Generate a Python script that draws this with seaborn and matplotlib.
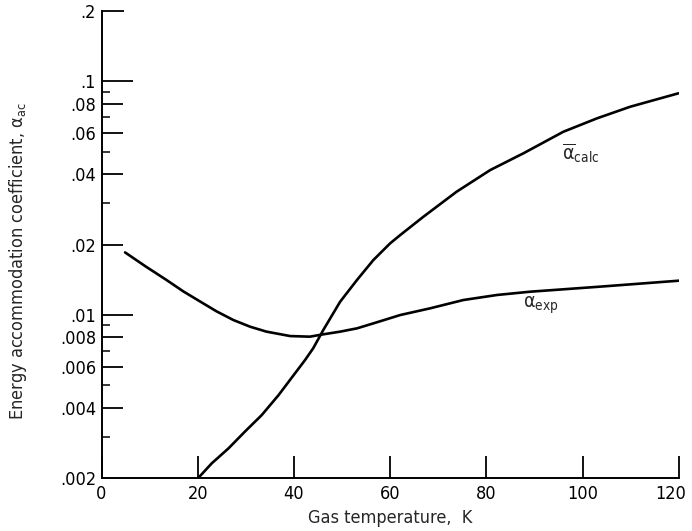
import pandas as pd
import seaborn as sns
import matplotlib.pyplot as plt
import matplotlib.transforms as mtransforms
from matplotlib.ticker import FixedLocator, NullFormatter

sns.set_style('ticks')
plt.rcParams['font.family'] = ['DejaVu Sans']
plt.rcParams['font.stretch'] = 'condensed'
plt.rcParams['mathtext.fontset'] = 'custom'
plt.rcParams['mathtext.rm'] = 'DejaVu Sans:stretch=condensed'
plt.rcParams['mathtext.it'] = 'DejaVu Sans:stretch=condensed'

# values
temp_exp = [4.9, 9.2, 13.5, 17.0, 20.5, 23.9, 27.4, 30.9, 34.3, 39.2,
            43.3, 46.1, 49.6, 53.1, 56.5, 62.1, 68.3, 75.2, 82.2, 89.1,
            103.6, 120.0]
alpha_exp = [0.0185, 0.0161, 0.0141, 0.0126, 0.0114, 0.01035, 0.0095,
             0.00889, 0.00847, 0.00811, 0.00806, 0.00825, 0.00847, 0.00875,
             0.00919, 0.00998, 0.01066, 0.01157, 0.01216, 0.01256, 0.0132,
             0.0140]

temp_calc = [20.1, 22.9, 26.4, 29.8, 33.3, 36.8, 40.2, 42.3, 44.0, 46.1,
             49.6, 53.1, 56.5, 60.0, 62.1, 66.9, 73.8, 80.8, 87.7, 96.0,
             103.0, 109.9, 119.9]
alpha_calc = [0.0020, 0.00231, 0.00268, 0.00316, 0.00372, 0.00453, 0.00561,
              0.0064, 0.00719, 0.00861, 0.01138, 0.0141, 0.01716, 0.02024,
              0.02197, 0.0263, 0.03366, 0.04169, 0.04918, 0.06083, 0.06943,
              0.07785, 0.08884]

x_ticks = [0, 20, 40, 60, 80, 100, 120]
y_major = [0.002, 0.004, 0.006, 0.008, 0.01, 0.02, 0.04, 0.06, 0.08, 0.1, 0.2]
y_labels = ['.002', '.004', '.006', '.008', '.01', '.02', '.04', '.06',
            '.08', '.1', '.2']
y_minor = [0.003, 0.005, 0.007, 0.009, 0.03, 0.05, 0.07, 0.09]

df = pd.concat([
    pd.DataFrame({'T': temp_exp, 'alpha': alpha_exp, 'curve': 'exp'}),
    pd.DataFrame({'T': temp_calc, 'alpha': alpha_calc, 'curve': 'calc'}),
])

fig = plt.figure(figsize=(6.92, 5.31), dpi=100)
ax = fig.add_axes([0.1467, 0.0998, 0.8343, 0.8794])

sns.lineplot(data=df, x='T', y='alpha', units='curve', estimator=None,
             color='black', linewidth=1.9, sort=False, ax=ax, legend=False)

ax.set_yscale('log')
ax.set_xlim(0, 120)
ax.set_ylim(0.002, 0.2)

for s in ['top', 'right']:
    ax.spines[s].set_visible(False)
for s in ['left', 'bottom']:
    ax.spines[s].set_linewidth(1.4)
    ax.spines[s].set_color('black')

ax.set_xticks(x_ticks)
ax.set_xticklabels([str(v) for v in x_ticks])
ax.yaxis.set_major_locator(FixedLocator(y_major))
ax.set_yticklabels(y_labels)
ax.yaxis.set_minor_locator(FixedLocator(y_minor))
ax.yaxis.set_minor_formatter(NullFormatter())
ax.xaxis.set_minor_locator(FixedLocator([]))

ax.tick_params(axis='x', direction='in', length=16, width=1.3,
               labelsize=13, pad=5, colors='black')
ax.tick_params(axis='y', which='major', direction='in', length=15, width=1.3,
               labelsize=13, pad=4, colors='black')
ax.tick_params(axis='y', which='minor', direction='in', length=5.5, width=1.3)

# longer ticks at the decades, as in the original
for val, tk in zip(y_major, ax.yaxis.get_major_ticks()):
    if val in (0.01, 0.1):
        tk.tick1line.set_markersize(22)
    elif val == 0.2:
        tk.tick1line.set_markersize(16)
    elif val == 0.002:
        tk.tick1line.set_markersize(0)

# the last x label sits a little left so it stays on the page
last = ax.get_xticklabels()[-1]
last.set_transform(last.get_transform() +
                   mtransforms.ScaledTranslation(-6 / 72, 0, fig.dpi_scale_trans))

ax.set_xlabel('Gas temperature,  K', fontsize=13, labelpad=4)
ax.set_ylabel(r'Energy accommodation coefficient, $\alpha_{\rm ac}$',
              fontsize=13, labelpad=8)
ax.yaxis.set_label_coords(-0.125, 0.465)

ax.text(95.7, 0.0493, r'$\overline{\alpha}_{\rm calc}$', fontsize=14,
        ha='left', va='center')
ax.text(87.6, 0.0110, r'$\alpha_{\rm exp}$', fontsize=14,
        ha='left', va='center')

fig.savefig('out.png', dpi=100)
